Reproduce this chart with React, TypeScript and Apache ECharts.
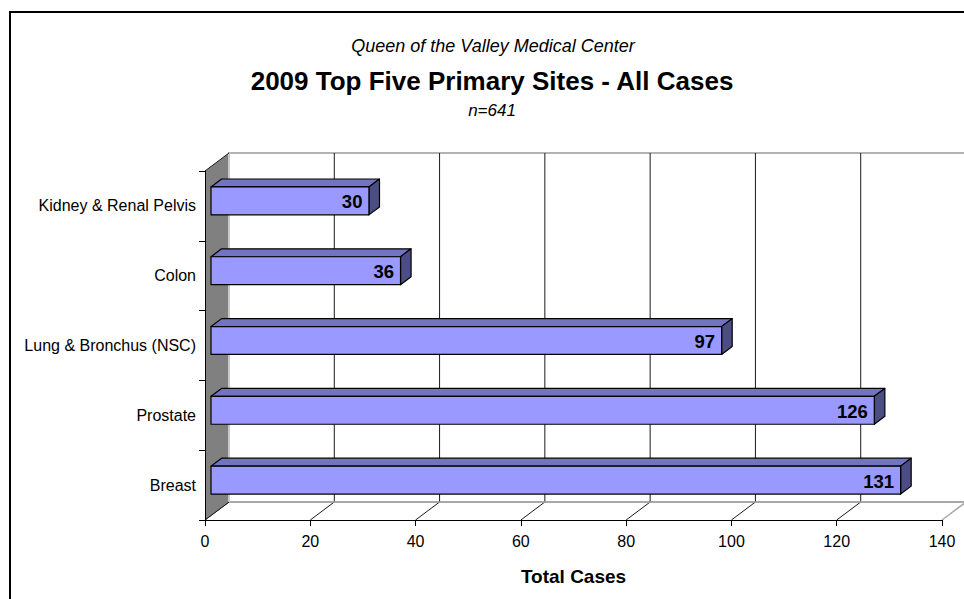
import React, { useEffect, useRef } from "react";
import * as echarts from "echarts";

// Primary sites, listed top to bottom as they appear on the chart
const sites = [
  "Kidney & Renal Pelvis",
  "Colon",
  "Lung & Bronchus (NSC)",
  "Prostate",
  "Breast",
];
const totalCases = [30, 36, 97, 126, 131];
const caseTicks = [0, 20, 40, 60, 80, 100, 120, 140];

const FONT = "'Liberation Sans', Arial, Helvetica, sans-serif";

// Pixel offset of the back plane relative to the front plane (3D depth)
const DEPTH_X = 24;
const DEPTH_Y = -18;
// Bars sit between these fractions of the depth
const BAR_FRONT = 0.25;
const BAR_BACK = 0.69;

export default function App() {
  const ref = useRef<HTMLDivElement>(null);

  useEffect(() => {
    if (!ref.current) return;
    const chart = echarts.init(ref.current, undefined, { renderer: "svg" });

    const renderWalls = (params: any, api: any) => {
      const cs = params.coordSys;
      const left = cs.x;
      const top = cs.y;
      const right = cs.x + cs.width;
      const bottom = cs.y + cs.height;
      const children: any[] = [];

      // back wall
      children.push({
        type: "rect",
        shape: {
          x: left + DEPTH_X,
          y: top + DEPTH_Y,
          width: right - left,
          height: bottom - top,
        },
        style: { fill: "#ffffff", stroke: "#b3b3b3", lineWidth: 2 },
      });

      // vertical gridlines on the back wall + floor diagonals
      caseTicks.forEach((t) => {
        const x = api.coord([t, 0])[0];
        if (t > 0 && t < caseTicks[caseTicks.length - 1]) {
          children.push({
            type: "line",
            shape: {
              x1: x + DEPTH_X,
              y1: top + DEPTH_Y,
              x2: x + DEPTH_X,
              y2: bottom + DEPTH_Y,
            },
            style: { stroke: "#1a1a1a", lineWidth: 1 },
          });
        }
        const last = t === caseTicks[caseTicks.length - 1];
        children.push({
          type: "line",
          shape: { x1: x, y1: bottom, x2: x + DEPTH_X, y2: bottom + DEPTH_Y },
          style: { stroke: last ? "#a6a6a6" : "#1a1a1a", lineWidth: last ? 1.5 : 1 },
        });
      });

      // back edge of the floor
      children.push({
        type: "line",
        shape: {
          x1: left + DEPTH_X,
          y1: bottom + DEPTH_Y,
          x2: right + DEPTH_X,
          y2: bottom + DEPTH_Y,
        },
        style: { stroke: "#a6a6a6", lineWidth: 1.5 },
      });

      // grey side wall
      children.push({
        type: "polygon",
        shape: {
          points: [
            [left, top],
            [left + DEPTH_X, top + DEPTH_Y],
            [left + DEPTH_X, bottom + DEPTH_Y],
            [left, bottom],
          ],
        },
        style: { fill: "#808080" },
      });
      children.push({
        type: "line",
        shape: {
          x1: left + DEPTH_X,
          y1: top + DEPTH_Y,
          x2: left + DEPTH_X,
          y2: bottom + DEPTH_Y,
        },
        style: { stroke: "#c8c8c8", lineWidth: 2 },
      });
      children.push({
        type: "line",
        shape: { x1: left, y1: top, x2: left + DEPTH_X, y2: top + DEPTH_Y },
        style: { stroke: "#1a1a1a", lineWidth: 1 },
      });
      children.push({
        type: "line",
        shape: { x1: left, y1: bottom, x2: left + DEPTH_X, y2: bottom + DEPTH_Y },
        style: { stroke: "#1a1a1a", lineWidth: 1 },
      });

      return { type: "group", children };
    };

    const renderBar = (params: any, api: any) => {
      const v = api.value(0);
      const idx = api.value(1);
      const p0 = api.coord([0, idx]);
      const p1 = api.coord([v, idx]);
      const band = Math.abs(api.size([0, 1])[1]);
      const x0 = p0[0] + BAR_FRONT * DEPTH_X;
      const x1 = p1[0] + BAR_FRONT * DEPTH_X;
      const yc = p0[1] + BAR_FRONT * DEPTH_Y - 0.5;
      const h = band * 0.4;
      const yt = yc - h / 2;
      const yb = yc + h / 2;
      const dx = (BAR_BACK - BAR_FRONT) * DEPTH_X;
      const dy = (BAR_BACK - BAR_FRONT) * DEPTH_Y;
      const edge = { stroke: "#000000", lineWidth: 1.2, lineJoin: "round" };
      return {
        type: "group",
        children: [
          {
            type: "polygon",
            shape: {
              points: [
                [x0, yt],
                [x1, yt],
                [x1 + dx, yt + dy],
                [x0 + dx, yt + dy],
              ],
            },
            style: { fill: "#7373c4", ...edge },
          },
          {
            type: "polygon",
            shape: {
              points: [
                [x1, yt],
                [x1 + dx, yt + dy],
                [x1 + dx, yb + dy],
                [x1, yb],
              ],
            },
            style: { fill: "#4d4d85", ...edge },
          },
          {
            type: "rect",
            shape: { x: x0, y: yt, width: x1 - x0, height: h },
            style: { fill: "#9999ff", ...edge },
          },
          {
            type: "text",
            x: x1 - 6.5,
            y: yc + 1,
            style: {
              text: String(v),
              fontSize: 18.5,
              fontWeight: "bold",
              fontFamily: FONT,
              fill: "#000000",
              align: "right",
              verticalAlign: "middle",
            },
          },
        ],
      };
    };

    chart.setOption({
      animation: false,
      backgroundColor: "#ffffff",
      textStyle: { fontFamily: FONT },
      grid: { left: 205, right: 22, top: 171, bottom: 79 },
      xAxis: {
        type: "value",
        min: 0,
        max: 140,
        interval: 20,
        z: 5,
        axisLine: { show: true, lineStyle: { color: "#000000", width: 1 } },
        axisTick: { show: true, length: 6, lineStyle: { color: "#000000" } },
        axisLabel: { fontSize: 16, color: "#000000", margin: 13, fontFamily: FONT },
        splitLine: { show: false },
        name: "Total Cases",
        nameLocation: "middle",
        nameGap: 47,
        nameTextStyle: {
          fontSize: 19,
          fontWeight: "bold",
          color: "#000000",
          fontFamily: FONT,
        },
      },
      yAxis: {
        type: "category",
        inverse: true,
        data: sites,
        z: 5,
        axisLine: { show: true, lineStyle: { color: "#000000", width: 1 } },
        axisTick: { show: true, length: 6, lineStyle: { color: "#000000" } },
        axisLabel: { fontSize: 16, color: "#000000", margin: 9, fontFamily: FONT },
        splitLine: { show: false },
      },
      graphic: [
        {
          type: "rect",
          shape: { x: 10, y: 12, width: 2000, height: 2000 },
          style: { fill: "none", stroke: "#000000", lineWidth: 2 },
          silent: true,
        },
        {
          type: "text",
          x: 493,
          y: 46,
          style: {
            text: "Queen of the Valley Medical Center",
            fontSize: 18,
            fontStyle: "italic",
            fontFamily: FONT,
            fill: "#000000",
            align: "center",
            verticalAlign: "middle",
          },
        },
        {
          type: "text",
          x: 492,
          y: 81,
          style: {
            text: "2009 Top Five Primary Sites - All Cases",
            fontSize: 26,
            fontWeight: "bold",
            fontFamily: FONT,
            fill: "#000000",
            align: "center",
            verticalAlign: "middle",
          },
        },
        {
          type: "text",
          x: 492,
          y: 110,
          style: {
            text: "n=641",
            fontSize: 17,
            fontStyle: "italic",
            fontFamily: FONT,
            fill: "#000000",
            align: "center",
            verticalAlign: "middle",
          },
        },
      ],
      series: [
        {
          type: "custom",
          name: "walls",
          z: 1,
          silent: true,
          renderItem: renderWalls,
          data: [[0, 0]],
        },
        {
          type: "custom",
          name: "Total Cases",
          z: 2,
          renderItem: renderBar,
          encode: { x: 0, y: 1 },
          data: totalCases.map((v, i) => [v, i]),
        },
      ],
    });

    return () => chart.dispose();
  }, []);

  return (
    <div
      ref={ref}
      style={{ position: "fixed", left: 0, top: 0, width: 964, height: 599 }}
    />
  );
}
